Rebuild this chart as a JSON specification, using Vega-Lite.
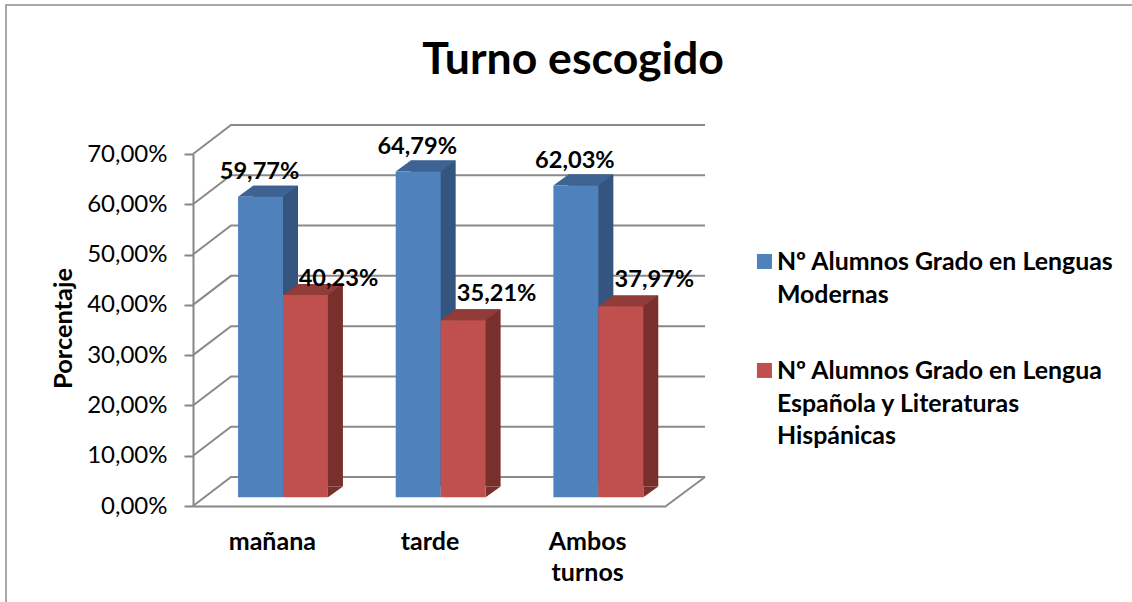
{
"$schema":"https://vega.github.io/schema/vega-lite/v6.json",
"autosize":"none",
"width":1128,"height":600,
"padding":{"left":6,"top":5,"right":-2,"bottom":-3},
"background":"white",
"view":{"stroke":"#8c8c8c","strokeWidth":1.5,"fill":"white"},
"config":{"locale":{"number":{"decimal":",","thousands":".","grouping":[3],"currency":["","€"],"percent":"%"}},"font":"Lato"},
"title":{"text":"Turno escogido","font":"Lato","fontWeight":"bold","fontSize":44.6,"color":"#000000","anchor":"middle","frame":"group","offset":-79,"dx":3},
"datasets":{
"barras":[
{"turno":"mañana","serie":"Nº Alumnos Grado en Lenguas Modernas","valor":0.5977},
{"turno":"mañana","serie":"Nº Alumnos Grado en Lengua Española y Literaturas Hispánicas","valor":0.4023},
{"turno":"tarde","serie":"Nº Alumnos Grado en Lenguas Modernas","valor":0.6479},
{"turno":"tarde","serie":"Nº Alumnos Grado en Lengua Española y Literaturas Hispánicas","valor":0.3521},
{"turno":"Ambos turnos","serie":"Nº Alumnos Grado en Lenguas Modernas","valor":0.6203},
{"turno":"Ambos turnos","serie":"Nº Alumnos Grado en Lengua Española y Literaturas Hispánicas","valor":0.3797}
],
"marcas":[{"marca":0},{"marca":0.1},{"marca":0.2},{"marca":0.3},{"marca":0.4},{"marca":0.5},{"marca":0.6},{"marca":0.7}]
},
"data":{"name":"barras"},
"resolve":{"scale":{"x":"independent"}},
"encoding":{
"x":{"field":"turno","type":"nominal","sort":["mañana","tarde","Ambos turnos"],
"scale":{"domain":["mañana","tarde","Ambos turnos"],"range":[198.17,671.17],"paddingInner":0.43,"paddingOuter":0.215},
"axis":null},
"xOffset":{"field":"serie","type":"nominal","sort":["Nº Alumnos Grado en Lenguas Modernas","Nº Alumnos Grado en Lengua Española y Literaturas Hispánicas"],"scale":{"paddingInner":0,"paddingOuter":0}},
"y":{"field":"valor","type":"quantitative","scale":{"domain":[0,0.7],"range":[501,149]},
"axis":{"title":"Porcentaje","titleFont":"Lato","titleFontWeight":"bold","titleFontSize":25.4,"titleColor":"#000000","titleX":-117,"titleY":323,"offset":-187,"orient":"left","values":[0,0.1,0.2,0.3,0.4,0.5,0.6,0.7],"format":".2%","grid":false,"domainColor":"#868686","domainWidth":2,"tickColor":"#868686","tickWidth":2,"tickSize":9,"labelFont":"Lato","labelFontSize":24,"labelColor":"#000000","labelPadding":17}}
},
"layer":[
{"data":{"name":"marcas"},
 "mark":{"type":"point","shape":"M-7.883,0L-4.083,-2.9L43.317,-2.9","size":400,"filled":false,"stroke":"#8a8a8a","strokeWidth":2,"opacity":1},
 "encoding":{"x":{"datum":"mañana","type":"nominal","scale":{"domain":["mañana","tarde","Ambos turnos"],"range":[187,660],"paddingInner":0.43,"paddingOuter":0.215},
 "axis":{"title":null,"orient":"bottom","offset":-99,"domainColor":"#868686","domainWidth":2,"ticks":false,"labelAngle":0,"labelFont":"Lato","labelFontWeight":"bold","labelFontSize":25,"labelColor":"#000000","labelPadding":23,"labelLineHeight":31,"labelLimit":0,"labelExpr":"datum.label === 'Ambos turnos' ? ['Ambos','turnos'] : datum.label"}},
 "xOffset":null,"y":{"field":"marca","type":"quantitative"}}},
{"data":{"name":"marcas"},"transform":[{"filter":"datum.marca === 0"}],
 "mark":{"type":"point","shape":"M39.417,0L43.317,-2.9","size":400,"filled":false,"stroke":"#8a8a8a","strokeWidth":2,"opacity":1},
 "encoding":{"x":{"datum":"mañana","type":"nominal","scale":{"domain":["mañana","tarde","Ambos turnos"],"range":[187,660],"paddingInner":0.43,"paddingOuter":0.215},"axis":null},"xOffset":null,"y":{"field":"marca","type":"quantitative"}}},
{"mark":{"type":"bar","yOffset":-19.6,"y2Offset":-19.6},
 "encoding":{"x":{"field":"turno","type":"nominal","sort":["mañana","tarde","Ambos turnos"],"scale":{"domain":["mañana","tarde","Ambos turnos"],"range":[213.17,686.17],"paddingInner":0.43,"paddingOuter":0.215},"axis":null},
 "color":{"condition":{"test":"datum.serie === 'Nº Alumnos Grado en Lenguas Modernas'","value":"#34557f"},"value":"#792f2c"}}},
{"mark":{"type":"point","shape":"M2.25,0L3.75,-1.09L2.25,-1.09Z","size":400,"filled":true,"opacity":1,"yOffset":-8.7},
 "encoding":{"y":{"datum":0},"color":{"condition":{"test":"datum.serie === 'Nº Alumnos Grado en Lenguas Modernas'","value":"#34557f"},"value":"#792f2c"}}},
{"mark":{"type":"point","shape":"M-2.25,0L2.25,0L3.75,-1.09L-0.75,-1.09Z","size":400,"filled":true,"opacity":1,"yOffset":-8.7},
 "encoding":{"color":{"condition":{"test":"datum.serie === 'Nº Alumnos Grado en Lenguas Modernas'","value":"#3d6392"},"value":"#913c39"}}},
{"mark":{"type":"bar","yOffset":-8.7,"y2Offset":-8.7},
 "encoding":{"color":{"field":"serie","type":"nominal","sort":["Nº Alumnos Grado en Lenguas Modernas","Nº Alumnos Grado en Lengua Española y Literaturas Hispánicas"],
  "scale":{"domain":["Nº Alumnos Grado en Lenguas Modernas","Nº Alumnos Grado en Lengua Española y Literaturas Hispánicas"],"range":["#4f81bd","#c0504d"]},
  "legend":{"title":null,"orient":"none","legendX":746,"legendY":244,"symbolType":"square","symbolSize":225,"symbolStrokeWidth":0,"labelFont":"Lato","labelFontWeight":"bold","labelFontSize":24.9,"labelColor":"#000000","labelLimit":0,"labelOffset":0,"rowPadding":50,
   "labelExpr":"datum.label === 'Nº Alumnos Grado en Lenguas Modernas' ? ['Nº Alumnos Grado en Lenguas','Modernas'] : ['Nº Alumnos Grado en Lengua','Española y Literaturas','Hispánicas']",
   "encode":{"labels":{"update":{"lineHeight":{"value":32.5},"baseline":{"value":"top"},"dy":{"value":-11}}}}}}}},
{"transform":[{"filter":"datum.serie === 'Nº Alumnos Grado en Lenguas Modernas'"}],
 "mark":{"type":"text","font":"Lato","fontWeight":"bold","fontSize":23.6,"color":"#000000","baseline":"middle","dx":-1,"yOffset":-33},
 "encoding":{"text":{"field":"valor","type":"quantitative","format":".2%"}}},
{"transform":[{"filter":"datum.serie !== 'Nº Alumnos Grado en Lenguas Modernas' && datum.turno !== 'mañana'"}],
 "mark":{"type":"text","font":"Lato","fontWeight":"bold","fontSize":23.6,"color":"#000000","baseline":"middle","dx":33.5,"yOffset":-34.7},
 "encoding":{"text":{"field":"valor","type":"quantitative","format":".2%"}}},
{"transform":[{"filter":"datum.serie !== 'Nº Alumnos Grado en Lenguas Modernas' && datum.turno === 'mañana'"}],
 "mark":{"type":"text","font":"Lato","fontWeight":"bold","fontSize":23.6,"color":"#000000","baseline":"middle","dx":33,"yOffset":-24.7},
 "encoding":{"text":{"field":"valor","type":"quantitative","format":".2%"}}}
]
}
